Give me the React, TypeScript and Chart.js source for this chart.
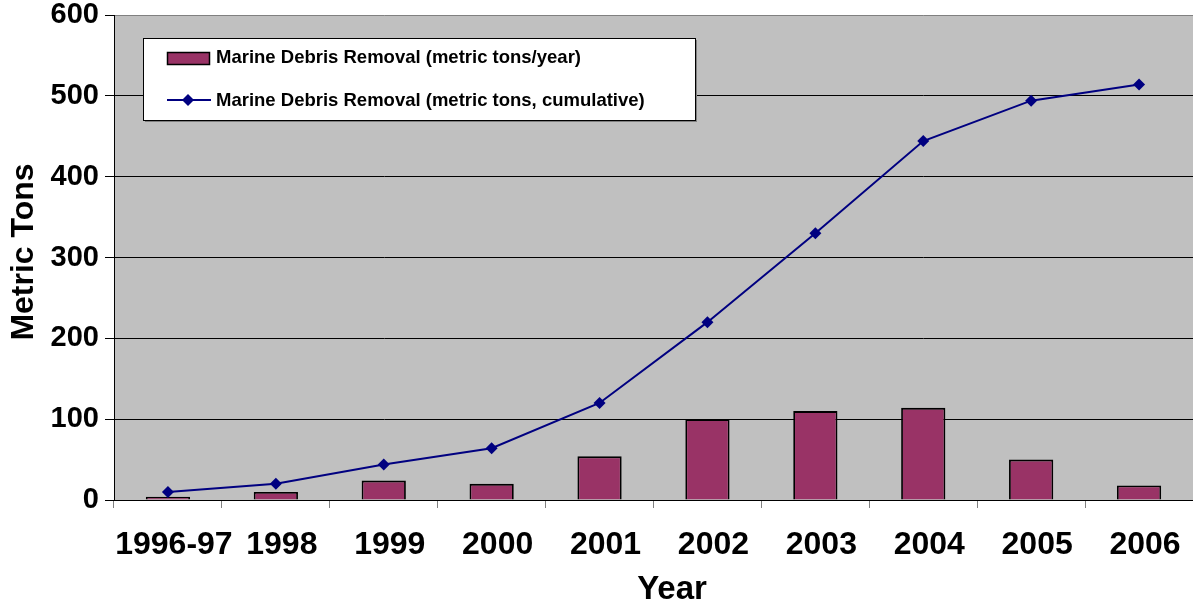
import React, { useEffect, useRef } from "react";
import { Chart, registerables } from "chart.js";

Chart.register(...registerables);

const categories = ["1996-97", "1998", "1999", "2000", "2001", "2002", "2003", "2004", "2005", "2006"];
const annualTons = [4, 10, 24, 20, 54, 100, 110, 114, 50, 18];
const cumulativeTons = [10, 20, 44, 64, 120, 220, 330, 444, 494, 514];
const yTicks = [0, 100, 200, 300, 400, 500, 600];
const barLabel = "Marine Debris Removal (metric tons/year)";
const lineLabel = "Marine Debris Removal (metric tons, cumulative)";
const xTitle = "Year";
const yTitle = "Metric Tons";

const FONT = "Arial, 'Liberation Sans', sans-serif";
const BAR_COLOR = "#993366";
const LINE_COLOR = "#000080";

const decorPlugin = {
  id: "decor",
  beforeDraw(chart: any) {
    const { ctx, chartArea } = chart;
    ctx.save();
    ctx.fillStyle = "#c0c0c0";
    ctx.fillRect(chartArea.left, chartArea.top, chartArea.right - chartArea.left, chartArea.bottom - chartArea.top);
    ctx.restore();
  },
  afterDraw(chart: any) {
    const { ctx, chartArea } = chart;
    ctx.save();
    // axis titles
    ctx.fillStyle = "#000";
    ctx.font = `bold 32px ${FONT}`;
    ctx.textAlign = "center";
    ctx.textBaseline = "middle";
    ctx.save();
    ctx.translate(24, 252);
    ctx.rotate(-Math.PI / 2);
    ctx.fillText(yTitle, 0, 0);
    ctx.restore();
    ctx.font = `bold 33px ${FONT}`;
    ctx.fillText(xTitle, 672, 590);

    // legend box
    const lx = 143, ly = 38, lw = 552, lh = 82;
    ctx.fillStyle = "#808080";
    ctx.fillRect(lx + 2, ly + 2, lw, lh);
    ctx.fillStyle = "#ffffff";
    ctx.fillRect(lx, ly, lw, lh);
    ctx.strokeStyle = "#000";
    ctx.lineWidth = 1;
    ctx.strokeRect(lx + 0.5, ly + 0.5, lw, lh);

    // bar swatch
    ctx.fillStyle = BAR_COLOR;
    ctx.fillRect(167, 52, 42, 12);
    ctx.strokeStyle = "#000";
    ctx.lineWidth = 1.5;
    ctx.strokeRect(167.5, 52.5, 42, 12);
    // line swatch
    ctx.strokeStyle = LINE_COLOR;
    ctx.lineWidth = 2;
    ctx.beginPath();
    ctx.moveTo(167, 100);
    ctx.lineTo(211, 100);
    ctx.stroke();
    ctx.fillStyle = LINE_COLOR;
    ctx.beginPath();
    ctx.moveTo(188, 94);
    ctx.lineTo(194, 100);
    ctx.lineTo(188, 106);
    ctx.lineTo(182, 100);
    ctx.closePath();
    ctx.fill();

    ctx.fillStyle = "#000";
    ctx.font = `bold 18.5px ${FONT}`;
    ctx.textAlign = "left";
    ctx.textBaseline = "middle";
    ctx.fillText(barLabel, 216, 58);
    ctx.fillText(lineLabel, 216, 101);
    ctx.restore();
  },
};

export default function App() {
  const ref = useRef<HTMLCanvasElement | null>(null);

  useEffect(() => {
    document.body.style.margin = "0";
    const canvas = ref.current;
    if (!canvas) return;
    const chart = new Chart(canvas, {
      type: "bar",
      data: {
        labels: categories,
        datasets: [
          {
            type: "line",
            label: lineLabel,
            data: cumulativeTons,
            borderColor: LINE_COLOR,
            backgroundColor: LINE_COLOR,
            borderWidth: 2,
            pointStyle: "rectRot",
            pointRadius: 6,
            pointBackgroundColor: LINE_COLOR,
            pointBorderColor: LINE_COLOR,
            pointBorderWidth: 0,
            tension: 0,
            order: 0,
          } as any,
          {
            type: "bar",
            label: barLabel,
            data: annualTons,
            backgroundColor: BAR_COLOR,
            borderColor: "#000",
            borderWidth: 1.8,
            categoryPercentage: 1,
            barPercentage: 0.41,
            order: 1,
          },
        ],
      },
      options: {
        responsive: false,
        animation: false,
        layout: { autoPadding: false, padding: { top: 15, right: 0, left: 0, bottom: 0 } },
        plugins: {
          legend: { display: false },
          tooltip: { enabled: false },
        },
        scales: {
          x: {
            offset: true,
            grid: {
              offset: true,
              drawOnChartArea: false,
              drawTicks: true,
              tickLength: 8,
              tickColor: "#808080",
              tickWidth: 1,
            },
            border: { display: true, color: "#000", width: 1 },
            ticks: {
              autoSkip: false,
              maxRotation: 0,
              minRotation: 0,
              color: "#000",
              font: { family: FONT, size: 32, weight: "bold" },
              padding: 18,
              labelOffset: 6,
            },
            afterFit(scale: any) {
              scale.height = 109;
              scale.paddingLeft = 0;
              scale.paddingRight = 0;
            },
          },
          y: {
            min: 0,
            max: 600,
            afterBuildTicks(scale: any) {
              scale.ticks = yTicks.map((v) => ({ value: v }));
            },
            grid: {
              color: (c: any) => (c.tick && c.tick.value === 600 ? "#808080" : "#000"),
              tickColor: "#000",
              tickLength: 9,
              lineWidth: 1,
            },
            border: { display: true, color: "#000", width: 1 },
            ticks: {
              color: "#000",
              font: { family: FONT, size: 29, weight: "bold" },
              padding: 6,
            },
            afterFit(scale: any) {
              scale.width = 114;
              scale.paddingTop = 0;
              scale.paddingBottom = 0;
            },
          },
        },
      },
      plugins: [decorPlugin],
    });
    return () => chart.destroy();
  }, []);

  return (
    <div style={{ position: "absolute", left: 0, top: 0, width: 1193, height: 609, background: "#fff" }}>
      <canvas ref={ref} width={1193} height={609} style={{ display: "block" }} />
    </div>
  );
}
